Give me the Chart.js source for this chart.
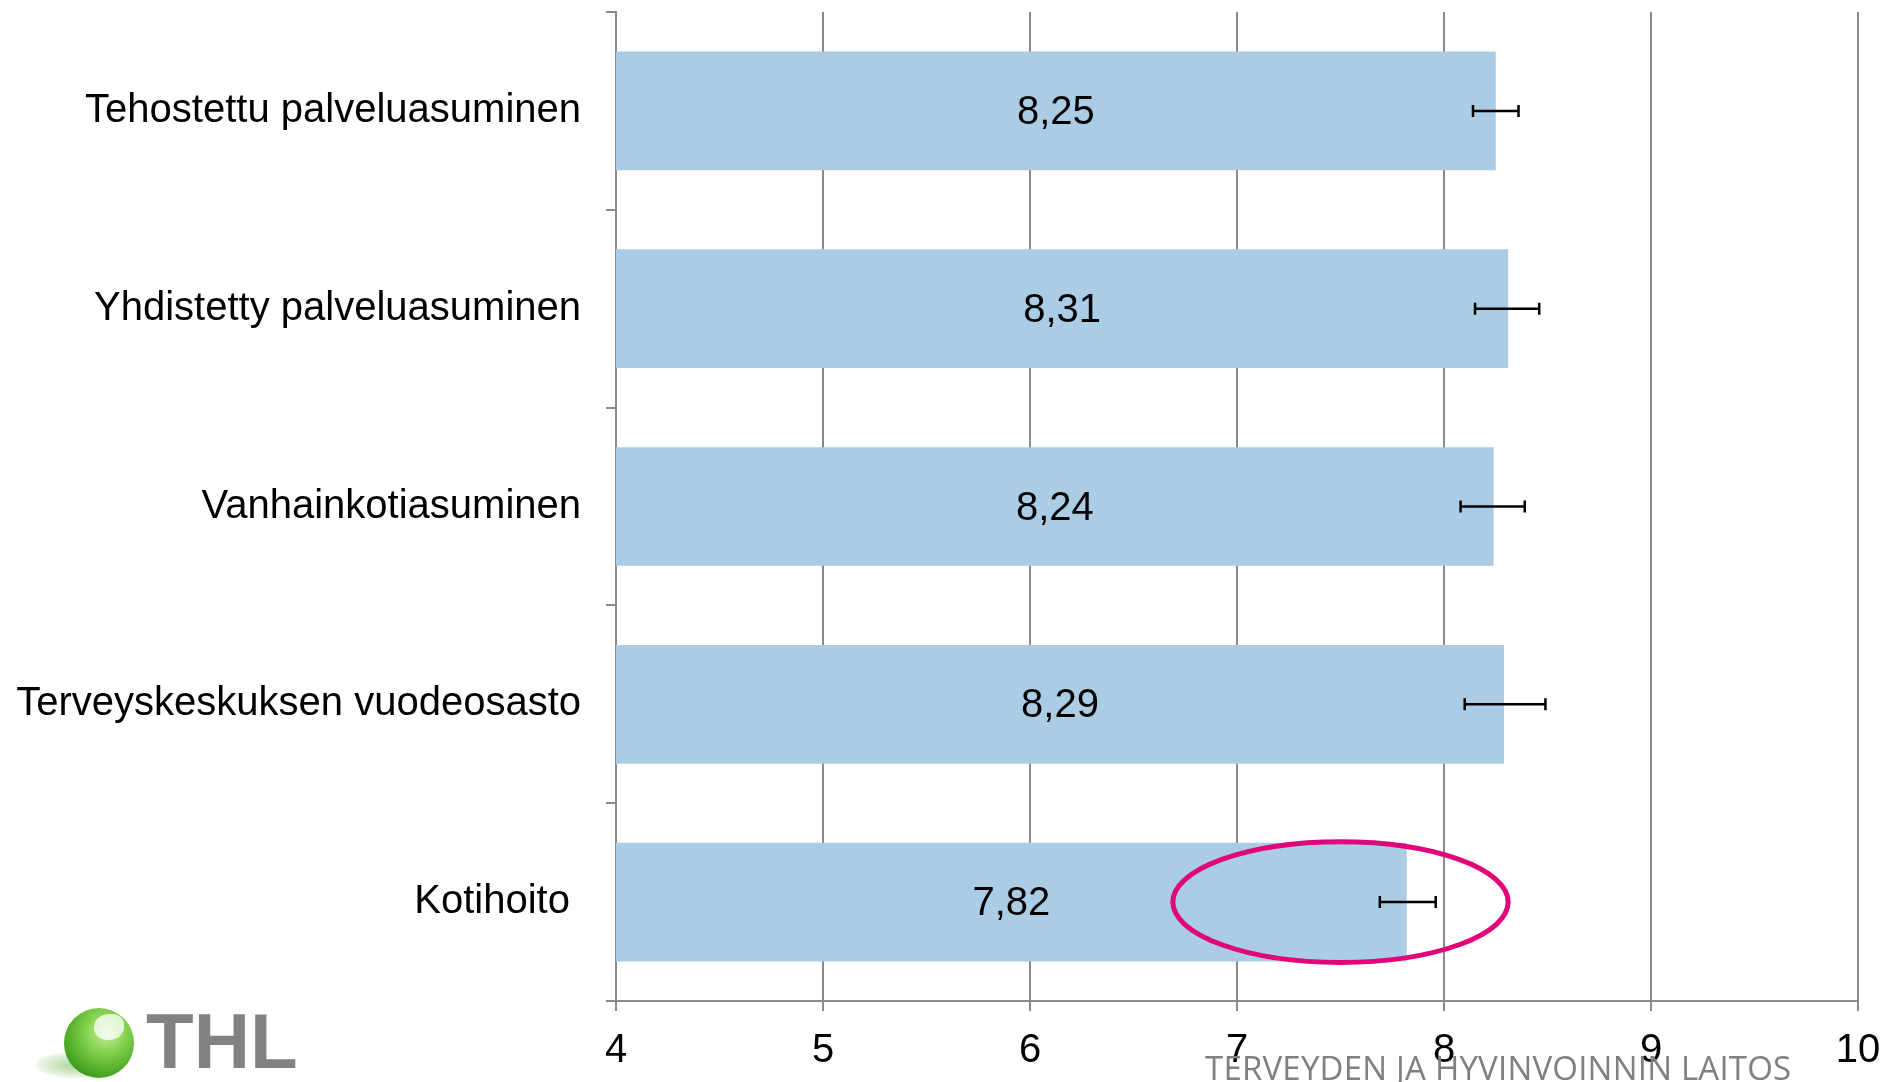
<!DOCTYPE html>
<html>
<head>
<meta charset="utf-8">
<script src="https://cdn.jsdelivr.net/npm/chart.js@4/dist/chart.umd.min.js"></script>
<style>
  body { margin: 0; background: #fff; }
  #wrap { position: relative; width: 1886px; height: 1082px; }
  #footer {
    position: absolute; left: 1205px; top: 1051px;
    font: 33px "Open Sans", sans-serif; line-height: 1; color: #808080;
    white-space: nowrap; letter-spacing: 0.2px;
  }
  #logo-text {
    position: absolute; left: 146px; top: 1002px;
    font: bold 78px "Liberation Sans", Arial, sans-serif; line-height: 1; color: #828282;
  }
  #logo-shadow {
    position: absolute; left: 36px; top: 1052px; width: 70px; height: 26px; border-radius: 50%;
    background: radial-gradient(ellipse at 60% 50%, rgba(90,170,60,0.55), rgba(150,210,120,0.15) 70%, rgba(255,255,255,0) 100%);
  }
  #logo-ball {
    position: absolute; left: 64px; top: 1008px; width: 70px; height: 70px; border-radius: 50%;
    background: radial-gradient(circle at 60% 35%, #c8f0a0 0%, #7fd04a 35%, #3e9e1c 75%, #2f7d12 100%);
  }
  #logo-leaf {
    position: absolute; left: 94px; top: 1014px; width: 30px; height: 26px; border-radius: 50% 40% 50% 45%;
    background: rgba(255,255,255,0.75);
  }
</style>
</head>
<body>
<div id="wrap">
  <canvas id="chart"></canvas>
  <div id="logo-shadow"></div>
  <div id="logo-ball"></div>
  <div id="logo-leaf"></div>
  <div id="logo-text">THL</div>
  <div id="footer">TERVEYDEN JA HYVINVOINNIN LAITOS</div>
</div>
<script>
// Categories and values
const categories = [
  'Tehostettu palveluasuminen',
  'Yhdistetty palveluasuminen',
  'Vanhainkotiasuminen',
  'Terveyskeskuksen vuodeosasto',
  'Kotihoito '
];
const scores = [8.25, 8.31, 8.24, 8.29, 7.82];

// Confidence interval ends
const ciLow = [8.14, 8.15, 8.08, 8.10, 7.69];
const ciHigh = [8.36, 8.46, 8.39, 8.49, 7.96];

// X axis range
const xMin = 4;
const xMax = 10;

// Highlight ellipse around the Kotihoito bar
const highlightIndex = 4;
const highlightCenter = 7.5;
const highlightHalfWidth = 0.81;

const labelFont = '40px "Liberation Sans", Arial, sans-serif';
const gridColor = '#8a8a8a';

// Draws error bars, value labels and the ellipse
const overlayPlugin = {
  id: 'overlay',
  afterDatasetsDraw(chart) {
    const ctx = chart.ctx;
    const xs = chart.scales.x;
    const meta = chart.getDatasetMeta(0);
    const left = xs.getPixelForValue(xMin);

    ctx.save();
    // error bars
    ctx.strokeStyle = '#000';
    ctx.lineWidth = 2.5;
    meta.data.forEach((bar, i) => {
      const x1 = xs.getPixelForValue(ciLow[i]);
      const x2 = xs.getPixelForValue(ciHigh[i]);
      const y = bar.y;
      ctx.beginPath();
      ctx.moveTo(x1, y); ctx.lineTo(x2, y);
      ctx.moveTo(x1, y - 6); ctx.lineTo(x1, y + 6);
      ctx.moveTo(x2, y - 6); ctx.lineTo(x2, y + 6);
      ctx.stroke();
    });

    // value labels in the middle of each bar
    ctx.fillStyle = '#000';
    ctx.font = labelFont;
    ctx.textAlign = 'center';
    ctx.textBaseline = 'middle';
    meta.data.forEach((bar, i) => {
      const mid = (left + xs.getPixelForValue(scores[i])) / 2;
      ctx.fillText(scores[i].toFixed(2).replace('.', ','), mid, bar.y + 2);
    });

    // ellipse
    const hb = meta.data[highlightIndex];
    const cx = xs.getPixelForValue(highlightCenter);
    const rx = xs.getPixelForValue(highlightCenter + highlightHalfWidth) - cx;
    const ry = hb.height / 2 + 1;
    ctx.strokeStyle = '#E0067A';
    ctx.lineWidth = 5;
    ctx.beginPath();
    ctx.ellipse(cx, hb.y, rx, ry, 0, 0, Math.PI * 2);
    ctx.stroke();
    ctx.restore();
  }
};

new Chart(document.getElementById('chart'), {
  type: 'bar',
  data: {
    labels: categories,
    datasets: [{
      data: scores,
      backgroundColor: '#AACDE5',
      barPercentage: 0.6,
      categoryPercentage: 1.0
    }]
  },
  options: {
    indexAxis: 'y',
    responsive: true,
    maintainAspectRatio: false,
    animation: false,
    layout: { padding: { left: 0, right: 28, top: 12, bottom: 0 } },
    plugins: {
      legend: { display: false },
      tooltip: { enabled: false }
    },
    scales: {
      x: {
        min: xMin,
        max: xMax,
        ticks: {
          stepSize: 1,
          color: '#000',
          font: { family: '"Liberation Sans", Arial, sans-serif', size: 40 },
          padding: 16
        },
        grid: { color: gridColor, lineWidth: 2, tickLength: 10 },
        border: { color: gridColor, width: 2 },
        afterFit(scale) {
          scale.height = 81;
          scale.paddingLeft = 0;
          scale.paddingRight = 0;
        }
      },
      y: {
        ticks: {
          color: '#000',
          font: { family: '"Liberation Sans", Arial, sans-serif', size: 40 },
          padding: 25
        },
        grid: { color: gridColor, lineWidth: 2, tickLength: 10, drawOnChartArea: false, offset: true },
        border: { color: gridColor, width: 2 },
        afterFit(scale) {
          scale.width = 616;
          scale.paddingTop = 0;
          scale.paddingBottom = 0;
        }
      }
    }
  },
  plugins: [overlayPlugin]
});
</script>
</body>
</html>
